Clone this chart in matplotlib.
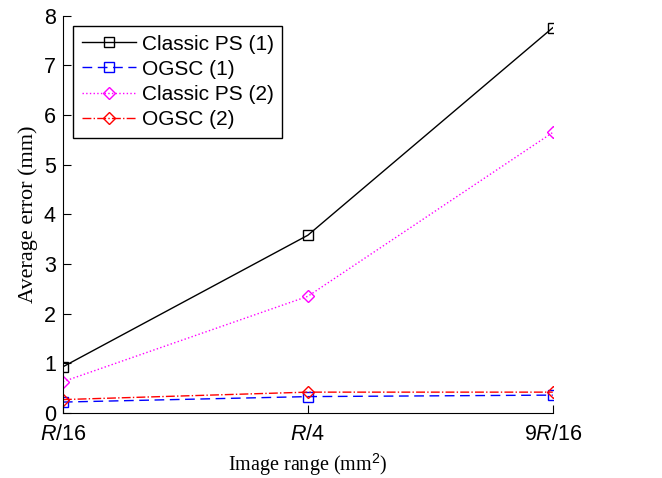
import numpy as np
import matplotlib.pyplot as plt

categories = ['$\\it{R}$/16', '$\\it{R}$/4', '9$\\it{R}$/16']
classic_ps_1 = [0.93, 3.58, 7.76]
ogsc_1 = [0.22, 0.33, 0.36]
classic_ps_2 = [0.63, 2.35, 5.65]
ogsc_2 = [0.27, 0.42, 0.42]

plt.rcParams['mathtext.fontset'] = 'custom'
plt.rcParams['mathtext.it'] = 'Liberation Sans:italic'
plt.rcParams['mathtext.rm'] = 'Liberation Sans'

fig = plt.figure(figsize=(6.62, 4.78), dpi=100)
ax = fig.add_axes([0.095, 0.136, 0.74, 0.831])
x = np.arange(len(categories))

ax.plot(x, classic_ps_1, color='black', ls='-', lw=1, marker='s', ms=7,
        mfc='none', mec='black', label='Classic PS (1)')
ax.plot(x, ogsc_1, color='blue', ls=(0, (7, 4)), lw=1, marker='s', ms=7,
        mfc='none', mec='blue', label='OGSC (1)')
ax.plot(x, classic_ps_2, color='magenta', ls=':', lw=1, marker='D', ms=6,
        mfc='none', mec='magenta', label='Classic PS (2)')
ax.plot(x, ogsc_2, color='red', ls='-.', lw=1, marker='D', ms=6,
        mfc='none', mec='red', label='OGSC (2)')

ax.set_xlim(0, 2)
ax.set_ylim(0, 8)
ax.set_xticks(x)
ax.set_xticklabels(categories)
ax.set_yticks(range(9))
ax.tick_params(direction='in', labelsize=15.5, length=6)
ax.tick_params(axis='x', pad=8)
ax.tick_params(axis='y', pad=5)
for lab in ax.get_xticklabels() + ax.get_yticklabels():
    lab.set_family('Liberation Sans')
ax.spines['top'].set_visible(False)
ax.spines['right'].set_visible(False)

ax.set_xlabel('Image range (mm$^2$)', family='Liberation Serif', fontsize=14.5)
ax.set_ylabel('Average error (mm)', family='Liberation Serif', fontsize=16)

leg = ax.legend(loc='upper left', prop={'family': 'Liberation Sans', 'size': 15},
                fancybox=False, edgecolor='black', framealpha=1,
                handlelength=2.6, borderaxespad=0.5, labelspacing=0.3,
                handletextpad=0.3, borderpad=0.4)
leg.get_frame().set_linewidth(1)

fig.savefig('out.png', dpi=100)
